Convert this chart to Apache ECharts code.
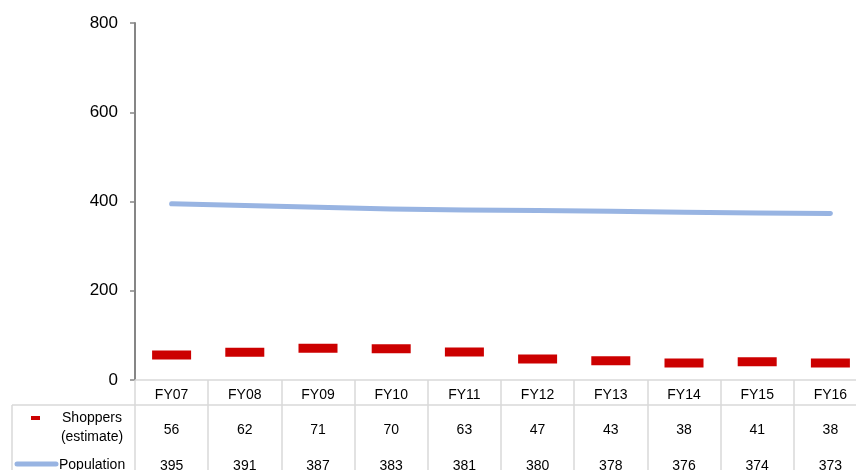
<!DOCTYPE html>
<html>
<head>
<meta charset="utf-8">
<script src="https://cdn.jsdelivr.net/npm/echarts@6/dist/echarts.min.js"></script>
<style>
  html, body { margin: 0; padding: 0; background: #fff; overflow: hidden; }
  #chart { width: 868px; height: 470px; }
</style>
</head>
<body>
<div id="chart"></div>
<script>
const categories = ['FY07','FY08','FY09','FY10','FY11','FY12','FY13','FY14','FY15','FY16'];
const shoppers = [56, 62, 71, 70, 63, 47, 43, 38, 41, 38];
const population = [395, 391, 387, 383, 381, 380, 378, 376, 374, 373];
const yTicks = { min: 0, max: 800, interval: 200 };
const shoppersName = 'Shoppers\n(estimate)';
const populationName = 'Population';

const FONT = '"Liberation Sans", Arial, sans-serif';
const GRID_LINE = '#D9D9D9';
const AXIS_GRAY = '#868686';
const RED = '#CC0000';
const BLUE = '#98B4E2';

const chart = echarts.init(document.getElementById('chart'), null, { renderer: 'canvas' });

chart.setOption({
  animation: false,
  backgroundColor: '#ffffff',
  grid: { left: 135, top: 23, bottom: 90, right: 1, containLabel: false, outerBoundsMode: 'none' },
  xAxis: [
    {
      type: 'category', data: categories, position: 'bottom', boundaryGap: true,
      axisLine: { lineStyle: { color: GRID_LINE, width: 1.5 } },
      axisTick: { show: true, length: 90, lineStyle: { color: GRID_LINE, width: 1.5 } },
      axisLabel: { interval: 0, margin: 8, fontSize: 14, color: '#000', fontFamily: FONT },
      splitLine: { show: false }
    },
    {
      type: 'category', data: shoppers.map(String), position: 'bottom', offset: 25, boundaryGap: true,
      axisLine: { lineStyle: { color: GRID_LINE, width: 1.5 } },
      axisTick: { show: false },
      axisLabel: { interval: 0, margin: 18, fontSize: 14, color: '#000', fontFamily: FONT },
      splitLine: { show: false }
    },
    {
      type: 'category', data: population.map(String), position: 'bottom', offset: 25, boundaryGap: true,
      axisLine: { show: false },
      axisTick: { show: false },
      axisLabel: { interval: 0, margin: 54, fontSize: 14, color: '#000', fontFamily: FONT },
      splitLine: { show: false }
    }
  ],
  yAxis: {
    type: 'value', min: yTicks.min, max: yTicks.max, interval: yTicks.interval,
    axisLine: { show: true, lineStyle: { color: AXIS_GRAY, width: 2 } },
    axisTick: { show: true, length: 5, lineStyle: { color: AXIS_GRAY, width: 1.5 } },
    axisLabel: { margin: 17, fontSize: 17, color: '#000', fontFamily: FONT },
    splitLine: { show: false }
  },
  series: [
    {
      name: populationName, type: 'line', data: population, xAxisIndex: 0,
      symbol: 'none', smooth: false,
      lineStyle: { color: BLUE, width: 5, cap: 'round', join: 'round' },
      z: 2
    },
    {
      name: shoppersName, type: 'scatter', data: shoppers, xAxisIndex: 0,
      symbol: 'rect', symbolSize: [39, 9],
      itemStyle: { color: RED, opacity: 1 },
      z: 3
    }
  ],
  graphic: [
    { type: 'line', shape: { x1: 12, y1: 405, x2: 135, y2: 405 }, style: { stroke: GRID_LINE, lineWidth: 1.5 } },
    { type: 'line', shape: { x1: 12, y1: 405, x2: 12, y2: 470 }, style: { stroke: GRID_LINE, lineWidth: 1.5 } },
    { type: 'rect', shape: { x: 31, y: 416, width: 9, height: 4 }, style: { fill: RED } },
    { type: 'text', x: 92, y: 428, style: { text: shoppersName, font: '14px ' + FONT, fill: '#000', align: 'center', verticalAlign: 'middle', lineHeight: 19 } },
    { type: 'line', shape: { x1: 17, y1: 464, x2: 56, y2: 464 }, style: { stroke: BLUE, lineWidth: 5, lineCap: 'round' } },
    { type: 'text', x: 59, y: 465, style: { text: populationName, font: '14px ' + FONT, fill: '#000', align: 'left', verticalAlign: 'middle' } }
  ]
});
</script>
</body>
</html>
